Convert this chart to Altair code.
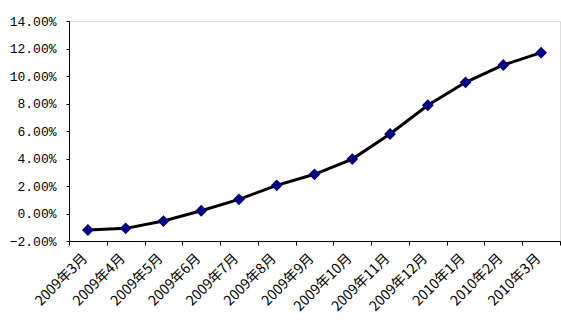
import altair as alt
import pandas as pd

months = ["2009年3月", "2009年4月", "2009年5月", "2009年6月", "2009年7月", "2009年8月",
          "2009年9月", "2009年10月", "2009年11月", "2009年12月", "2010年1月", "2010年2月", "2010年3月"]
values = [-1.2, -1.08, -0.55, 0.2, 1.03, 2.05, 2.85, 3.96, 5.78, 7.87, 9.54, 10.8, 11.7]

df = pd.DataFrame({"month": months, "value": [v / 100 for v in values]})

x = alt.X("month:N", sort=months, title=None,
          scale=alt.Scale(type="band", paddingInner=0, paddingOuter=0),
          axis=alt.Axis(labelAngle=-45, tickBand="extent", labelFont="Noto Sans CJK SC",
                        labelFontSize=14, labelColor="#000000", domainColor="#000000",
                        tickColor="#000000", tickSize=4, labelPadding=6, labelOffset=-8,
                        grid=False))
y = alt.Y("value:Q", title=None,
          scale=alt.Scale(domain=[-0.02, 0.14], nice=False, zero=False),
          axis=alt.Axis(format=".2%", values=[-0.02, 0, 0.02, 0.04, 0.06, 0.08, 0.10, 0.12, 0.14],
                        labelFont="Liberation Mono", labelFontSize=13, labelColor="#000000",
                        domainColor="#000000", tickColor="#000000", tickSize=3,
                        labelPadding=10, grid=False))

base = alt.Chart(df).encode(x=x, y=y)
line = base.mark_line(color="#000000", strokeWidth=3)
pts = base.mark_point(shape="diamond", filled=True, color="#000080", size=140, opacity=1)

chart = (line + pts).properties(
    width=491, height=220,
    autosize="none",
    padding={"left": 69, "top": 21, "right": 1, "bottom": 79},
).configure_view(stroke=None).configure(background="#ffffff")

chart.save("out.html", embed_options={"renderer": "svg", "actions": False})
